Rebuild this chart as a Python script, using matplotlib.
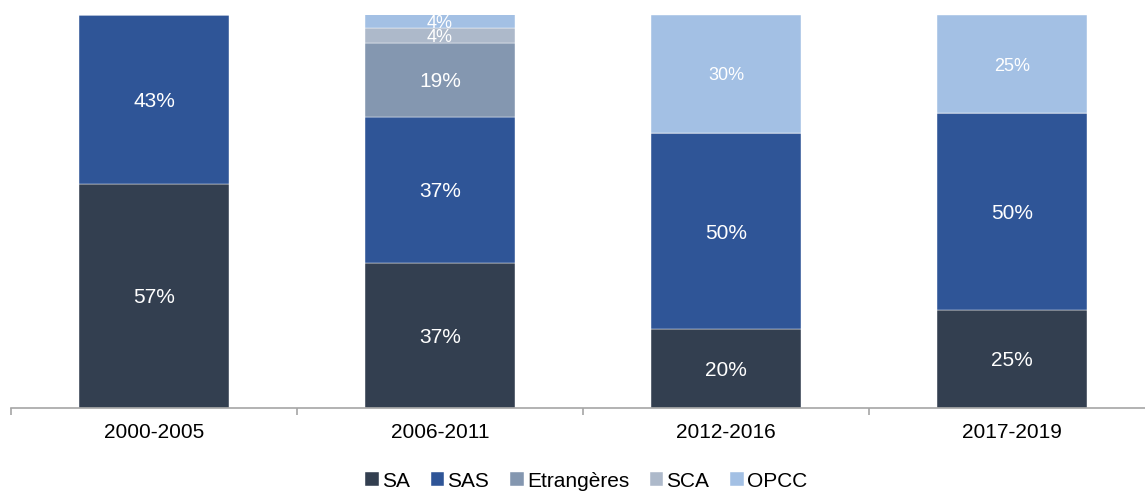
import matplotlib
matplotlib.use("Agg")
from matplotlib import pyplot as plt
import numpy as np

plt.rcParams['font.family'] = ['Liberation Sans', 'DejaVu Sans']

#=================== DATA ===================#
periods = ['2000-2005', '2006-2011', '2012-2016', '2017-2019']
series = ['SA', 'SAS', 'Etrangères', 'SCA', 'OPCC']
sa = [57, 37, 20, 25]
sas = [43, 37, 50, 50]
etrangeres = [0, 19, 0, 0]
sca = [0, 3.6, 0, 0]
opcc = [0, 3.6, 30, 25]
values = [sa, sas, etrangeres, sca, opcc]

colors = ['#333f50', '#2f5597', '#8497b0', '#adb9ca', '#a3c0e4']

#=================== FIGURE ===================#
fig = plt.figure(figsize=(11.45, 4.94), dpi=100)
ax = fig.add_axes([11 / 1145, 86 / 494, 1144 / 1145, 393 / 494])

x = np.arange(len(periods))
bottom = np.zeros(len(periods))
for name, vals, col in zip(series, values, colors):
    vals = np.array(vals, float)
    ax.bar(x, vals, 0.525, bottom=bottom, color=col, label=name,
           edgecolor='white', linewidth=0.3)
    for i, v in enumerate(vals):
        if v <= 0:
            continue
        fs = 15
        if v < 5 or name == 'OPCC':
            fs = 13
        ax.text(x[i], bottom[i] + v / 2, f'{v:.0f}%', ha='center', va='center_baseline',
                color='white', fontsize=fs)
    bottom += vals

ax.set_xlim(-0.5, len(periods) - 0.5)
ax.set_ylim(0, 100)
ax.set_yticks([])
for s in ['top', 'right', 'left']:
    ax.spines[s].set_visible(False)
ax.spines['bottom'].set_color('#a6a6a6')
ax.spines['bottom'].set_linewidth(1.2)

ax.set_xticks(x)
ax.set_xticklabels(periods, fontsize=15)
ax.tick_params(axis='x', which='major', length=0, pad=10.5)
ax.set_xticks(np.arange(len(periods) + 1) - 0.5, minor=True)
ax.tick_params(axis='x', which='minor', length=5, width=1.2, color='#a6a6a6')

fig.legend(loc='center', bbox_to_anchor=(0.512, 0.026), ncol=5, frameon=False,
           fontsize=15, handlelength=0.65, handleheight=0.65, handletextpad=0.15,
           columnspacing=1.0, borderaxespad=0)

fig.savefig('out.png', dpi=100)
